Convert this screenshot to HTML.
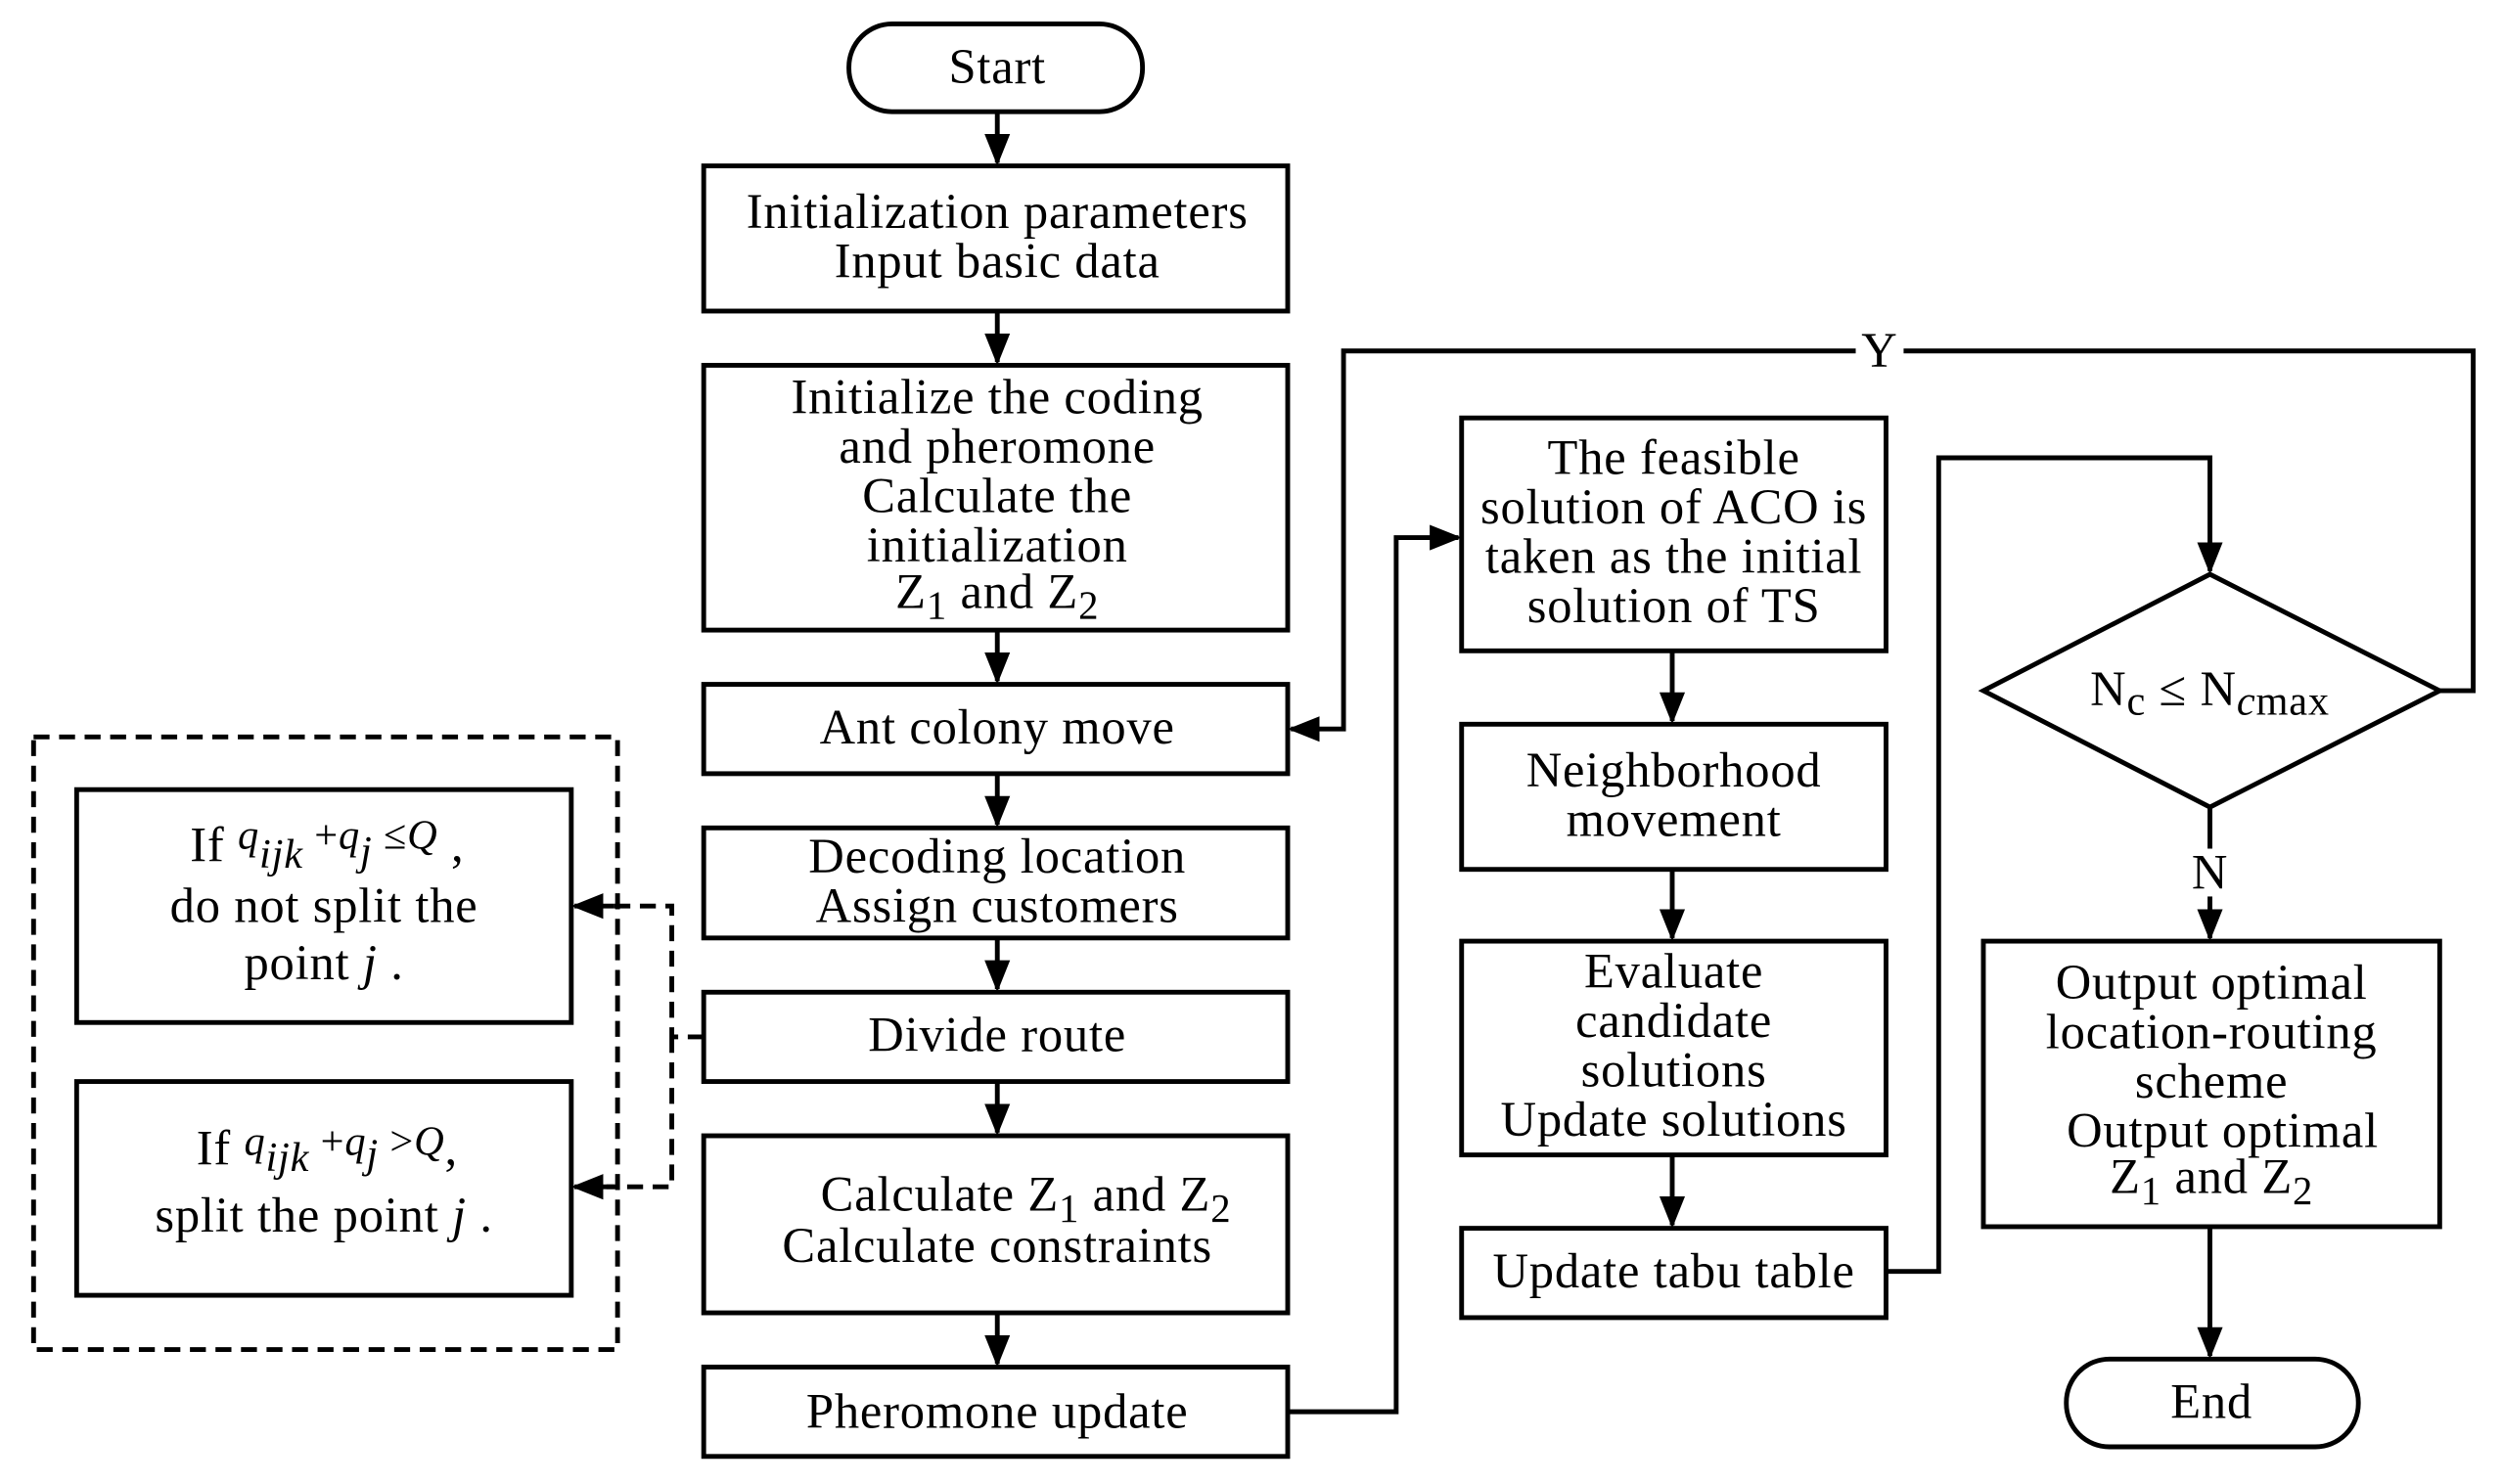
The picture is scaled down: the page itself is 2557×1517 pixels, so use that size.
<!DOCTYPE html>
<html><head><meta charset="utf-8"><style>html,body{margin:0;padding:0;background:#fff}svg{display:block}</style></head>
<body>
<svg width="2557" height="1517" viewBox="0 0 1568 930.3" xmlns="http://www.w3.org/2000/svg" font-family="'Liberation Serif', serif" font-size="31" letter-spacing="0.5" text-anchor="middle">
<defs>
<marker id="b" viewBox="0 0 10 10" refX="9" refY="5" markerWidth="20" markerHeight="20" orient="auto" markerUnits="userSpaceOnUse"><path d="M0,1L10,5L0,9z"/></marker></defs>
<g fill="none" stroke="#000" stroke-width="3">
<rect x="532" y="15" width="184" height="55" rx="27"/>
<rect x="441" y="104" width="366" height="91"/>
<rect x="441" y="229" width="366" height="166"/>
<rect x="441" y="429" width="366" height="56"/>
<rect x="441" y="519" width="366" height="69"/>
<rect x="441" y="622" width="366" height="56"/>
<rect x="441" y="712" width="366" height="111"/>
<rect x="441" y="857" width="366" height="56"/>
<rect x="916" y="262" width="266" height="146"/>
<rect x="916" y="454" width="266" height="91"/>
<rect x="916" y="590" width="266" height="134"/>
<rect x="916" y="770" width="266" height="56"/>
<path d="M1243,433L1385,360L1529,433L1385,506Z"/>
<rect x="1243" y="590" width="286" height="179"/>
<rect x="1295" y="852" width="183" height="55" rx="27"/>
<rect x="48" y="495" width="310" height="146"/>
<rect x="48" y="678" width="310" height="134"/>
<rect x="21" y="462" width="366" height="384" stroke-dasharray="10,6"/>
<path d="M441,650H421V568H380M421,650V744H380" stroke-dasharray="10,6"/>
<path d="M385,568H360" marker-end="url(#b)"/>
<path d="M385,744H360" marker-end="url(#b)"/>
<path d="M625,70V102" marker-end="url(#b)"/>
<path d="M625,195V227" marker-end="url(#b)"/>
<path d="M625,395V427" marker-end="url(#b)"/>
<path d="M625,485V517" marker-end="url(#b)"/>
<path d="M625,588V620" marker-end="url(#b)"/>
<path d="M625,678V710" marker-end="url(#b)"/>
<path d="M625,823V855" marker-end="url(#b)"/>
<path d="M1048,408V452" marker-end="url(#b)"/>
<path d="M1048,545V588" marker-end="url(#b)"/>
<path d="M1048,724V768" marker-end="url(#b)"/>
<path d="M1385,506V588" marker-end="url(#b)"/>
<path d="M1385,769V850" marker-end="url(#b)"/>
<path d="M807,885H875V337H914" marker-end="url(#b)"/>
<path d="M1182,797H1215V287H1385V358" marker-end="url(#b)"/>
<path d="M1529,433H1550V220H842V457H809" marker-end="url(#b)"/>
</g>
<rect x="1163" y="206" width="30" height="28" fill="#fff"/>
<rect x="1371" y="532" width="30" height="30" fill="#fff"/>
<text x="1178" y="230">Y</text>
<text x="1385" y="557">N</text>
<text x="625" y="52">Start</text>
<text x="625" y="143">Initialization parameters</text>
<text x="625" y="174">Input basic data</text>
<text x="625" y="259">Initialize the coding</text>
<text x="625" y="290">and pheromone</text>
<text x="625" y="321">Calculate the</text>
<text x="625" y="352">initialization</text>
<text x="625" y="381">Z<tspan dy="7" font-size="25">1</tspan><tspan dy="-7"> and Z</tspan><tspan dy="7" font-size="25">2</tspan></text>
<text x="625" y="466">Ant colony move</text>
<text x="625" y="547">Decoding location</text>
<text x="625" y="578">Assign customers</text>
<text x="625" y="659">Divide route</text>
<text x="643" y="759">Calculate Z<tspan dy="7" font-size="25">1</tspan><tspan dy="-7"> and Z</tspan><tspan dy="7" font-size="25">2</tspan></text>
<text x="625" y="791">Calculate constraints</text>
<text x="625" y="895">Pheromone update</text>
<text x="1049" y="297">The feasible</text>
<text x="1049" y="328">solution of ACO is</text>
<text x="1049" y="359">taken as the initial</text>
<text x="1049" y="390">solution of TS</text>
<text x="1049" y="493">Neighborhood</text>
<text x="1049" y="524">movement</text>
<text x="1049" y="619">Evaluate</text>
<text x="1049" y="650">candidate</text>
<text x="1049" y="681">solutions</text>
<text x="1049" y="712">Update solutions</text>
<text x="1049" y="807">Update tabu table</text>
<text x="1385" y="442">N<tspan dy="6" font-size="26">c</tspan><tspan dy="-6"> ≤ N</tspan><tspan dy="6" font-size="26"><tspan font-style="italic">c</tspan>max</tspan></text>
<text x="1386" y="626">Output optimal</text>
<text x="1386" y="657">location-routing</text>
<text x="1386" y="688">scheme</text>
<text x="1393" y="719">Output optimal</text>
<text x="1386" y="748">Z<tspan dy="7" font-size="25">1</tspan><tspan dy="-7"> and Z</tspan><tspan dy="7" font-size="25">2</tspan></text>
<text x="1386" y="889">End</text>
<text x="205" y="540">If <tspan font-style="italic" font-size="26" dy="-8">q</tspan><tspan font-style="italic" font-size="26" dy="12">ijk</tspan><tspan dy="-12" font-size="26"> +</tspan><tspan font-style="italic" font-size="26">q</tspan><tspan font-style="italic" font-size="26" dy="10">j</tspan><tspan dy="-10" font-size="26"> ≤</tspan><tspan font-style="italic" font-size="26">Q</tspan><tspan dy="8"> ,</tspan></text>
<text x="203" y="578">do not split the</text>
<text x="203" y="614">point <tspan font-style="italic">j</tspan> .</text>
<text x="205" y="730">If <tspan font-style="italic" font-size="26" dy="-6">q</tspan><tspan font-style="italic" font-size="26" dy="10">ijk</tspan><tspan dy="-10" font-size="26"> +</tspan><tspan font-style="italic" font-size="26">q</tspan><tspan font-style="italic" font-size="26" dy="8">j</tspan><tspan dy="-8" font-size="26"> &gt;</tspan><tspan font-style="italic" font-size="26">Q</tspan><tspan dy="6">,</tspan></text>
<text x="203" y="772">split the point <tspan font-style="italic">j</tspan> .</text>
</svg>
</body></html>
